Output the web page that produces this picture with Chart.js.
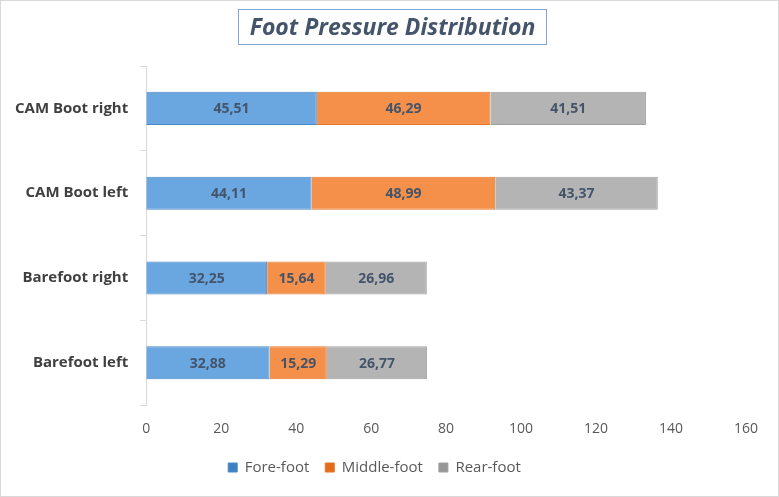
<!DOCTYPE html>
<html>
<head>
<meta charset="utf-8">
<script src="https://cdn.jsdelivr.net/npm/chart.js@4.4.0/dist/chart.umd.min.js"></script>
<style>
    body { margin: 0; background: #fff; }
    #frame { position: relative; width: 777px; height: 495px; border: 1px solid #d9d9d9; }
    #title {
        position: absolute; left: 237px; top: 8px; width: 309px; height: 36px;
        border: 1px solid #7fa7d8; box-sizing: border-box;
        font: italic bold 23px "Open Sans", sans-serif; color: #44546a;
        text-align: center; line-height: 33px;
    }
    canvas { position: absolute; left: 0; top: 0; }
</style>
</head>
<body>
<div id="frame">
    <canvas id="myChart" width="777" height="495"></canvas>
    <div id="title">Foot Pressure Distribution</div>
</div>
<script>
// dati
var categorie = ['CAM Boot right', 'CAM Boot left', 'Barefoot right', 'Barefoot left'];
var fore_foot = [45.51, 44.11, 32.25, 32.88];
var middle_foot = [46.29, 48.99, 15.64, 15.29];
var rear_foot = [41.51, 43.37, 26.96, 26.77];
var serie = ['Fore-foot', 'Middle-foot', 'Rear-foot'];
var tick_x = [0, 20, 40, 60, 80, 100, 120, 140, 160];

// colori con sfumatura come in Excel
function gradiente(top, bottom) {
    return function(context) {
        var el = context.element;
        var ctx = context.chart.ctx;
        if (!el || el.y === undefined || !el.height) return top;
        var g = ctx.createLinearGradient(0, el.y - el.height / 2, 0, el.y + el.height / 2);
        g.addColorStop(0, top);
        g.addColorStop(1, bottom);
        return g;
    };
}

// plugin per scrivere i valori dentro le barre
var etichette = {
    id: 'etichette',
    afterDatasetsDraw: function(chart) {
        var ctx = chart.ctx;
        ctx.save();
        ctx.font = 'bold 14px "Open Sans", sans-serif';
        ctx.fillStyle = '#44546a';
        ctx.textAlign = 'center';
        ctx.textBaseline = 'middle';
        chart.data.datasets.forEach(function(ds, i) {
            var meta = chart.getDatasetMeta(i);
            meta.data.forEach(function(bar, j) {
                var testo = ds.data[j].toFixed(2).replace('.', ',');
                ctx.fillText(testo, (bar.x + bar.base) / 2, bar.y + 1);
            });
        });
        ctx.restore();
    }
};

var ctx = document.getElementById('myChart').getContext('2d');
var myChart = new Chart(ctx, {
    type: 'bar',
    data: {
        labels: categorie,
        datasets: [{
            label: serie[0],
            data: fore_foot,
            backgroundColor: gradiente('#6aa6df', '#3f80c4'),
            borderColor: '#4a87c6',
            borderWidth: 1
        }, {
            label: serie[1],
            data: middle_foot,
            backgroundColor: gradiente('#f4904a', '#e36c1c'),
            borderColor: '#e3772c',
            borderWidth: 1
        }, {
            label: serie[2],
            data: rear_foot,
            backgroundColor: gradiente('#b4b4b4', '#979797'),
            borderColor: '#a0a0a0',
            borderWidth: 1
        }]
    },
    options: {
        indexAxis: 'y',
        responsive: false,
        animation: false,
        categoryPercentage: 0.39,
        barPercentage: 1,
        layout: { padding: { top: 65, right: 32, bottom: 11, left: 2 } },
        scales: {
            x: {
                stacked: true,
                min: 0,
                max: 160,
                afterBuildTicks: function(scale) {
                    scale.ticks = tick_x.map(function(v) { return { value: v }; });
                },
                grid: { display: false },
                border: { display: false },
                ticks: {
                    padding: 7,
                    color: '#595959',
                    font: { family: '"Open Sans", sans-serif', size: 14 }
                }
            },
            y: {
                stacked: true,
                grid: { drawOnChartArea: false, color: '#d9d9d9', tickLength: 6 },
                border: { display: true, color: '#d9d9d9' },
                ticks: {
                    padding: 12,
                    color: '#404040',
                    font: { family: '"Open Sans", sans-serif', size: 15, weight: 'bold' }
                }
            }
        },
        plugins: {
            legend: {
                position: 'bottom',
                labels: {
                    boxWidth: 9,
                    boxHeight: 9,
                    padding: 16,
                    color: '#595959',
                    font: { family: '"Open Sans", sans-serif', size: 15 }
                }
            },
            tooltip: { enabled: false }
        }
    },
    plugins: [etichette]
});
</script>
</body>
</html>
